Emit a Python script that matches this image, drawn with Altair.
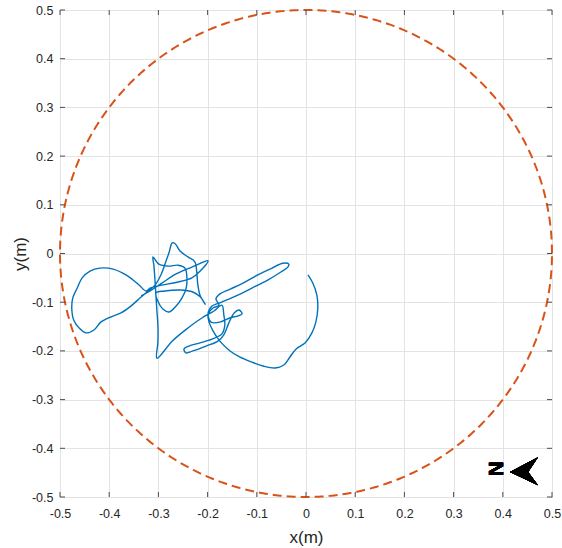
import numpy as np
import pandas as pd
import altair as alt

# Walked path inside the arena, metres (x, y), in recording order
path_x = [
    -0.335, -0.317, -0.293, -0.264, -0.232, -0.199,
    -0.215, -0.232, -0.262, -0.293, -0.317, -0.325,
    -0.341, -0.366, -0.392, -0.419, -0.439, -0.455, -0.465, -0.474, -0.476, -0.472,
    -0.461, -0.447, -0.431, -0.417, -0.396, -0.376, -0.356, -0.337, -0.323,
    -0.307, -0.295, -0.285, -0.278, -0.272, -0.266, -0.256, -0.240, -0.226, -0.222,
    -0.220, -0.215, -0.205,
    -0.215, -0.230, -0.256, -0.287, -0.305,
    -0.301, -0.291, -0.278, -0.264, -0.252, -0.244, -0.242, -0.246, -0.260, -0.280,
    -0.299, -0.311,
    -0.309, -0.307, -0.305, -0.303, -0.301, -0.301, -0.303,
    -0.272, -0.240, -0.211, -0.187, -0.171,
    -0.167, -0.165, -0.171, -0.191, -0.217, -0.238, -0.248, -0.244, -0.230, -0.203,
    -0.179, -0.167, -0.157, -0.146, -0.136, -0.130, -0.138, -0.154, -0.175, -0.193,
    -0.199, -0.191, -0.177,
    -0.167, -0.142, -0.110, -0.077, -0.051, -0.037, -0.035, -0.047, -0.069, -0.098,
    -0.128, -0.154, -0.175, -0.183, -0.177, -0.189, -0.199,
    -0.197, -0.189, -0.175, -0.157, -0.134, -0.110, -0.087, -0.063, -0.045, -0.033,
    -0.020, -0.002, 0.012, 0.020, 0.024, 0.022, 0.014, 0.004,
]
path_y = [
    -0.087, -0.077, -0.061, -0.042, -0.028, -0.015,
    -0.036, -0.050, -0.059, -0.065, -0.071, -0.077,
    -0.063, -0.044, -0.032, -0.030, -0.036, -0.050, -0.071, -0.091, -0.114, -0.137,
    -0.153, -0.163, -0.157, -0.141, -0.130, -0.122, -0.108, -0.091, -0.079,
    -0.065, -0.044, -0.017, 0.003, 0.022, 0.020, 0.005, -0.007, -0.017, -0.038,
    -0.063, -0.087, -0.104,
    -0.089, -0.079, -0.075, -0.077, -0.081,
    -0.098, -0.114, -0.120, -0.108, -0.091, -0.073, -0.050, -0.030, -0.024, -0.026,
    -0.022, -0.007,
    -0.026, -0.054, -0.087, -0.118, -0.149, -0.182, -0.215,
    -0.180, -0.153, -0.132, -0.118, -0.106,
    -0.126, -0.147, -0.165, -0.176, -0.184, -0.190, -0.196, -0.204, -0.200, -0.190,
    -0.180, -0.167, -0.143, -0.122, -0.116, -0.124, -0.128, -0.132, -0.141, -0.141,
    -0.124, -0.108, -0.102,
    -0.098, -0.087, -0.071, -0.054, -0.038, -0.028, -0.022, -0.020, -0.030, -0.044,
    -0.061, -0.073, -0.083, -0.093, -0.106, -0.112, -0.124,
    -0.141, -0.159, -0.180, -0.198, -0.213, -0.223, -0.231, -0.235, -0.229, -0.213,
    -0.196, -0.184, -0.163, -0.141, -0.112, -0.085, -0.061, -0.044,
]

arena_radius = 0.5
tick_vals = [-0.5, -0.4, -0.3, -0.2, -0.1, 0.0, 0.1, 0.2, 0.3, 0.4, 0.5]

W, H = 492, 487
FONT = "Liberation Sans"
INK = "#262626"
FRAME = "#4d4d4d"

path_df = pd.DataFrame({"x": path_x, "y": path_y, "i": range(len(path_x))})
theta = np.linspace(0.0, 2.0 * np.pi, 721)
arena_df = pd.DataFrame({
    "x": arena_radius * np.cos(theta),
    "y": arena_radius * np.sin(theta),
    "i": range(len(theta)),
})
ticks_df = pd.DataFrame({"t": tick_vals})

xs = alt.Scale(domain=[-0.5, 0.5], nice=False, zero=False)
ys = alt.Scale(domain=[-0.5, 0.5], nice=False, zero=False)

label_expr = "datum.value == 0 ? '0' : replace(format(datum.value, '.1f'), '\u2212', '-')"

x_axis = alt.Axis(
    values=tick_vals, labelExpr=label_expr, title="x(m)", grid=True,
    gridColor="#e3e3e3", gridWidth=1, ticks=False, tickSize=0, domain=False,
    labelPadding=10, labelFontSize=12.5, labelFont=FONT, labelColor=INK,
    labelFlush=False, titleFont=FONT, titleFontSize=17, titleFontWeight="normal",
    titleColor=INK, titleY=40, titleBaseline="middle",
)
y_axis = alt.Axis(
    values=tick_vals, labelExpr=label_expr, title="y(m)", grid=True,
    gridColor="#e3e3e3", gridWidth=1, ticks=False, tickSize=0, domain=False,
    labelPadding=7, labelFontSize=12.5, labelFont=FONT, labelColor=INK,
    labelFlush=False, titleFont=FONT, titleFontSize=17, titleFontWeight="normal",
    titleColor=INK, titleX=-40, titleY=H / 2, titleAngle=-90,
    titleBaseline="middle", titleAlign="center",
)

arena = alt.Chart(arena_df).mark_line(
    color="#D95319", strokeWidth=2, strokeDash=[9, 5]
).encode(
    x=alt.X("x:Q", scale=xs, axis=x_axis),
    y=alt.Y("y:Q", scale=ys, axis=y_axis),
    order="i:Q",
)

path = alt.Chart(path_df).mark_line(
    color="#0072BD", strokeWidth=1.4, interpolate="catmull-rom"
).encode(
    x=alt.X("x:Q", scale=xs),
    y=alt.Y("y:Q", scale=ys),
    order="i:Q",
)

# inward tick marks on all four sides of the box
tick_len = 5
tick_bottom = alt.Chart(ticks_df).mark_rule(color=FRAME).encode(
    x=alt.X("t:Q", scale=xs), y=alt.value(H), y2=alt.value(H - tick_len))
tick_top = alt.Chart(ticks_df).mark_rule(color=FRAME).encode(
    x=alt.X("t:Q", scale=xs), y=alt.value(0), y2=alt.value(tick_len))
tick_left = alt.Chart(ticks_df).mark_rule(color=FRAME).encode(
    y=alt.Y("t:Q", scale=ys), x=alt.value(0), x2=alt.value(tick_len))
tick_right = alt.Chart(ticks_df).mark_rule(color=FRAME).encode(
    y=alt.Y("t:Q", scale=ys), x=alt.value(W), x2=alt.value(W - tick_len))

# north indicator
north_label = alt.Chart(ticks_df).mark_text(
    text="N", angle=90, fontSize=20, fontWeight="bold", font=FONT,
    color="black", align="center", baseline="middle",
).encode(x=alt.datum(0.384), y=alt.datum(-0.442))

north_arrow = alt.Chart(ticks_df).mark_point(
    shape="M-1,0.05L1,-1L0.3,0.05L1,1Z", size=784, filled=True,
    color="black", opacity=1, strokeWidth=0,
).encode(x=alt.datum(0.443), y=alt.datum(-0.447))

chart = alt.layer(
    arena, path, tick_bottom, tick_top, tick_left, tick_right,
    north_label, north_arrow,
).properties(
    width=W, height=H,
    autosize=alt.AutoSizeParams(type="none"),
    padding={"left": 60, "top": 10, "right": 10, "bottom": 51},
    background="white",
).configure_view(stroke=FRAME, strokeWidth=1)

chart.save("out.html", embed_options={"renderer": "svg", "actions": False})
